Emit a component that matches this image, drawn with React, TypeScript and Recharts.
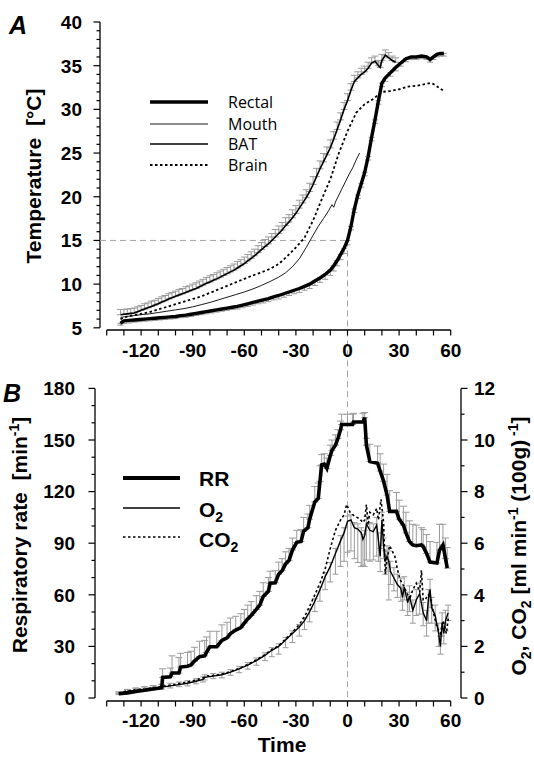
import React from "react";
import { LineChart, Line, XAxis, YAxis, ReferenceLine, ErrorBar, Legend } from "recharts";

const FONT = '"Liberation Sans", Arial, Helvetica, sans-serif';
const BAR_GRAY = "#9a9a9a";
const GUIDE_GRAY = "#a5a5a5";

// shared time axis (min)
const timeTicks = [-140, -130, -120, -110, -100, -90, -80, -70, -60, -50, -40, -30, -20, -10, 0, 10, 20, 30, 40, 50, 60];
const timeLabels = [-120, -90, -60, -30, 0, 30, 60];

// ---------- Panel A: temperature (°C) ----------
const tempTicks = [5, 6, 7, 8, 9, 10, 11, 12, 13, 14, 15, 16, 17, 18, 19, 20, 21, 22, 23, 24, 25, 26, 27, 28, 29, 30, 31, 32, 33, 34, 35, 36, 37, 38, 39, 40];
const tempLabels = [5, 10, 15, 20, 25, 30, 35, 40];

const rectalTime = [-132, -130, -127, -124, -121, -118, -115, -112, -109, -106, -103, -100, -97, -94, -91, -88, -85, -82, -79, -76, -73, -70, -67, -64, -61, -58, -55, -52, -49, -46, -43, -40, -37, -34, -31, -28, -25, -22, -19, -16, -13, -10, -8, -6, -4, -2, 0, 2, 4, 6, 8, 10, 12, 14, 16, 18, 20, 22, 25, 28, 31, 34, 37, 40, 43, 46, 48, 50, 52, 54, 56];
const rectalTemp = [5.5, 5.8, 5.85, 5.9, 5.95, 6.0, 6.05, 6.1, 6.15, 6.2, 6.25, 6.3, 6.4, 6.45, 6.55, 6.65, 6.75, 6.85, 6.95, 7.05, 7.15, 7.25, 7.35, 7.45, 7.6, 7.75, 7.9, 8.05, 8.2, 8.35, 8.55, 8.7, 8.9, 9.1, 9.3, 9.5, 9.75, 10.0, 10.35, 10.7, 11.1, 11.6, 12.1, 12.7, 13.4, 14.1, 15.0, 16.6, 18.6, 20.2, 21.5, 22.8, 24.6, 26.8, 28.8, 31.0, 33.0, 33.6, 34.2, 34.8, 35.3, 35.8, 36.0, 36.0, 36.1, 36.0, 35.7, 36.0, 36.3, 36.4, 36.4];
const rectalErr = [0.2, 0.3, 0.3, 0.25, 0.25, 0.25, 0.25, 0.25, 0.25, 0.25, 0.25, 0.25, 0.25, 0.25, 0.25, 0.25, 0.25, 0.25, 0.25, 0.25, 0.25, 0.25, 0.25, 0.3, 0.3, 0.3, 0.3, 0.3, 0.35, 0.35, 0.35, 0.4, 0.4, 0.4, 0.4, 0.45, 0.45, 0.5, 0.5, 0.5, 0.55, 0.6, 0.6, 0.6, 0.6, 0.6, 0.5, 0.4, 0.4, 0.4, 0.4, 0.4, 0.4, 0.4, 0.4, 0.4, 0.4, 0.4, 0.4, 0.4, 0.35, 0.35, 0.3, 0.3, 0.3, 0.3, 0.3, 0.3, 0.3, 0.3, 0.3];

const mouthTime = [-132, -128, -124, -120, -115, -110, -105, -100, -95, -90, -85, -80, -75, -70, -65, -60, -55, -50, -45, -40, -36, -32, -28, -24, -20, -17, -14, -11, -9, -8, -7, -5, -3, -1, 1, 3, 5, 7];
const mouthTemp = [6.2, 6.3, 6.4, 6.5, 6.6, 6.75, 6.9, 7.05, 7.2, 7.4, 7.65, 7.9, 8.2, 8.5, 8.8, 9.1, 9.45, 9.85, 10.3, 10.8, 11.3, 12.0, 12.9, 14.2, 15.6, 16.6, 17.5, 18.4, 19.1, 18.8, 19.4, 20.2, 21.0, 21.8, 22.6, 23.3, 24.2, 25.0];

const batTime = [-132, -130, -128, -126, -124, -122, -120, -118, -116, -114, -112, -110, -108, -106, -104, -102, -100, -98, -96, -94, -92, -90, -88, -86, -84, -82, -80, -78, -76, -74, -72, -70, -68, -66, -64, -62, -60, -58, -56, -54, -52, -50, -48, -46, -44, -42, -40, -38, -36, -34, -32, -30, -28, -26, -24, -22, -20, -18, -16, -14, -12, -10, -8, -6, -4, -2, 0, 2, 4, 6, 8, 10, 12, 14, 16, 18, 19, 20, 22, 24, 26, 28];
const batTemp = [6.5, 6.55, 6.6, 6.65, 6.7, 6.85, 7.0, 7.15, 7.3, 7.45, 7.6, 7.75, 7.95, 8.1, 8.3, 8.45, 8.6, 8.75, 8.9, 9.05, 9.2, 9.35, 9.5, 9.7, 9.9, 10.1, 10.25, 10.45, 10.6, 10.8, 11.0, 11.2, 11.4, 11.6, 11.85, 12.1, 12.35, 12.65, 12.95, 13.25, 13.6, 13.95, 14.3, 14.6, 15.0, 15.4, 15.8, 16.2, 16.7, 17.1, 17.6, 18.1, 18.7, 19.3, 19.9, 20.6, 21.4, 22.3, 23.2, 24.0, 24.8, 25.6, 26.6, 27.7, 28.8, 30.0, 31.0, 32.2, 33.2, 33.6, 34.0, 34.3, 34.7, 35.3, 35.5, 35.0, 34.8, 35.6, 36.2, 35.9, 35.6, 35.4];
const batErr = [0.6, 0.55, 0.55, 0.55, 0.55, 0.55, 0.55, 0.6, 0.55, 0.6, 0.55, 0.6, 0.6, 0.6, 0.6, 0.6, 0.6, 0.65, 0.6, 0.65, 0.6, 0.65, 0.65, 0.65, 0.65, 0.65, 0.7, 0.65, 0.7, 0.7, 0.7, 0.7, 0.7, 0.7, 0.75, 0.7, 0.75, 0.75, 0.75, 0.75, 0.8, 0.8, 0.8, 0.8, 0.8, 0.85, 0.85, 0.85, 0.9, 0.85, 0.9, 0.9, 0.9, 0.9, 0.9, 0.95, 0.9, 0.95, 0.9, 0.95, 0.9, 0.9, 0.85, 0.85, 0.8, 0.8, 0.8, 0.75, 0.7, 0.7, 0.7, 0.65, 0.7, 0.6, 0.6, 0.6, 0.6, 0.7, 0.6, 0.6, 0.5, 0.5];

const brainTime = [-132, -128, -124, -120, -115, -110, -105, -100, -95, -90, -85, -80, -75, -70, -65, -60, -55, -50, -45, -40, -35, -30, -25, -20, -15, -10, -5, 0, 5, 10, 15, 20, 25, 30, 35, 40, 45, 48, 50, 53, 56];
const brainTemp = [6.0, 6.3, 6.45, 6.6, 6.8, 7.1, 7.4, 7.7, 8.0, 8.3, 8.6, 9.0, 9.4, 9.8, 10.2, 10.6, 11.0, 11.35, 11.75, 12.3, 13.2, 14.2, 15.3, 17.3, 19.7, 22.0, 25.0, 27.5, 29.6, 30.6, 31.2, 32.0, 32.1, 32.3, 32.6, 32.7, 32.9, 33.0, 32.9, 32.5, 32.1];

// ---------- Panel B: respiration ----------
const rrTicks = [0, 10, 20, 30, 40, 50, 60, 70, 80, 90, 100, 110, 120, 130, 140, 150, 160, 170, 180];
const rrLabels = [0, 30, 60, 90, 120, 150, 180];
const gasTicks = [0, 1, 2, 3, 4, 5, 6, 7, 8, 9, 10, 11, 12];
const gasLabels = [0, 2, 4, 6, 8, 10, 12];

const rrTime = [-133, -128, -123, -118, -113, -108, -107.5, -103, -102, -98, -97, -93, -91, -89, -86, -83, -82, -80, -76, -73, -70, -68, -65, -62, -60, -58, -56, -53, -51, -49, -46, -45, -42, -40, -38, -36, -34, -32, -29.5, -27, -25.5, -23, -22, -19, -17, -16, -15, -13.5, -12, -10, -9, -7, -5.5, -4, -3.4, 0, 3, 3.5, 9, 10, 11, 13, 17.5, 19, 21, 23, 24.5, 28.5, 30, 32.5, 34, 36, 38, 40, 43, 44, 46, 48, 52, 53.5, 55.5, 57, 58];
const rrRate = [2.5, 3.0, 3.8, 4.5, 5.2, 6.0, 12.0, 12.4, 14.5, 14.5, 18.0, 18.5, 19.2, 21.5, 24, 24.5, 26.5, 29.8, 29.8, 33.5, 35, 37.5, 39.5, 41, 43.5, 46, 48, 51.5, 54, 59, 62, 66.7, 67, 72, 74, 78, 80, 86, 90.5, 91, 97, 99, 104, 114, 116, 126, 135.5, 136, 133.5, 141, 144, 147, 151, 156, 159, 159, 159, 160.5, 160.5, 163, 147, 137.5, 136.5, 132, 126, 118, 108.5, 108.5, 104, 100.5, 96, 91, 89, 88.5, 89, 88, 84, 79, 78.5, 86, 89, 81, 75.5];
const rrErr = [1, 2, 2, 2, 2, 2, 5, 5, 10, 9, 8, 8, 8, 8, 9, 9, 9, 9, 9, 9, 9, 9, 8, 8, 8, 8, 8, 8, 8, 8, 8, 7, 7, 7, 7, 7, 7, 7, 7, 7, 8, 8, 8, 9, 9, 9, 6, 6, 6, 6, 6, 6, 5, 5, 6, 6, 6, 5, 5, 3, 4, 10, 10, 10, 10, 12, 12, 11, 11, 11, 12, 12, 12, 12, 10, 10, 11, 12, 12, 15, 12, 12, 12];

const o2Time = [-133, -128, -123, -118, -113, -108, -103, -98, -93, -88, -84, -83, -78, -73, -68, -63, -58, -53, -48, -44, -40, -36, -32, -28, -25, -22, -19, -16, -13, -10, -7, -4, -2, 0, 2, 4, 6, 8, 9, 10, 11, 13, 15, 17, 18, 19, 20, 21, 22, 23, 24, 25, 27, 29, 31, 32, 33, 35, 36, 38, 40, 42, 44, 46, 47, 48, 49, 51, 53, 54, 55, 56, 57, 58.5];
const o2Value = [0.18, 0.25, 0.3, 0.33, 0.38, 0.42, 0.47, 0.52, 0.57, 0.65, 0.72, 0.8, 0.85, 0.9, 1.0, 1.13, 1.27, 1.45, 1.65, 1.85, 2.0, 2.25, 2.5, 2.75, 3.0, 3.35, 3.75, 4.2, 4.7, 5.1, 5.6, 6.1, 6.4, 6.85, 6.9, 6.6, 6.55, 6.4, 6.15, 6.3, 6.75, 6.5, 6.45, 6.7, 6.1, 5.5, 6.9, 5.9, 5.3, 5.5, 5.3, 4.9, 4.65, 4.4, 4.25, 3.9, 4.3, 3.7, 3.95, 3.4, 3.8, 4.05, 3.3, 3.0, 3.8, 4.2, 3.5, 3.2, 2.5, 2.0, 2.9, 2.5, 3.0, 3.3];
const o2ErrLow = [0.05, 0.05, 0.05, 0.06, 0.06, 0.08, 0.08, 0.08, 0.1, 0.1, 0.1, 0.1, 0.1, 0.12, 0.12, 0.15, 0.15, 0.18, 0.2, 0.25, 0.3, 0.3, 0.35, 0.35, 0.35, 0.4, 0.4, 0.45, 0.5, 0.6, 0.8, 1.0, 1.1, 1.2, 1.2, 1.2, 1.3, 1.3, 1.0, 1.2, 1.4, 1.2, 1.1, 1.2, 0.8, 0.6, 1.0, 0.5, 0.5, 0.6, 1.5, 0.5, 0.5, 0.5, 0.5, 0.5, 0.5, 0.5, 0.6, 0.5, 0.6, 0.8, 0.5, 0.6, 0.9, 0.7, 0.6, 0.6, 0.5, 0.3, 0.5, 0.4, 0.4, 0.3];
const o2ErrHigh = [0.05, 0.08, 0.08, 0.1, 0.1, 0.1, 0.1, 0.1, 0.1, 0.1, 0.1, 0.1, 0.1, 0.1, 0.1, 0.1, 0.1, 0.1, 0.1, 0.1, 0.1, 0.1, 0.1, 0.1, 0.1, 0.1, 0.1, 0.1, 0.15, 0.15, 0.2, 0.2, 0.2, 0.2, 0.2, 0.2, 0.2, 0.2, 0.2, 0.2, 0.3, 0.3, 0.3, 0.3, 0.3, 0.3, 0.3, 0.3, 0.4, 0.4, 0.4, 0.4, 0.4, 0.4, 0.4, 0.4, 0.4, 0.4, 0.4, 0.4, 0.4, 0.4, 0.4, 0.4, 0.4, 0.4, 0.4, 0.4, 0.4, 0.4, 0.4, 0.4, 0.4, 0.3];

const co2Time = [-133, -128, -123, -118, -113, -108, -103, -98, -93, -88, -84, -82, -78, -73, -68, -63, -58, -53, -48, -44, -40, -36, -32, -28, -25, -22, -19, -16, -13, -10, -7, -4, -2, -0.5, 1.5, 4, 7, 9, 10, 11, 12, 13, 15, 17, 18, 19.5, 21, 22, 23, 24.5, 26, 27.5, 29, 30.5, 33, 35, 36.5, 38, 40, 42, 43, 44, 45, 47, 48, 50, 52, 54, 55.5, 57.5, 58.6];
const co2Value = [0.2, 0.28, 0.33, 0.36, 0.4, 0.45, 0.5, 0.56, 0.62, 0.7, 0.78, 0.85, 0.88, 0.93, 1.02, 1.15, 1.3, 1.48, 1.68, 1.88, 2.02, 2.28, 2.55, 2.85, 3.15, 3.55, 4.0, 4.45, 5.0, 5.8, 6.5, 6.9, 7.1, 7.5, 7.2, 7.05, 6.95, 6.8, 6.9, 7.5, 6.7, 7.2, 7.1, 7.35, 6.9, 7.7, 6.8, 4.8, 5.4, 5.9, 5.7, 5.5, 5.0, 4.6, 4.3, 4.0, 3.9, 4.2, 4.45, 4.1, 4.95, 3.8, 3.8, 4.0, 3.9, 3.3, 2.75, 2.5, 3.0, 2.5, 3.1];

type Pt = { t: number; v: number; e?: number[] };

const series = (time: number[], vals: number[], lo?: number[], hi?: number[]): Pt[] =>
  time.map((t, i) => ({
    t,
    v: vals[i],
    e: lo || hi ? [lo ? lo[i] : 0, hi ? hi[i] : 0] : undefined,
  }));

const rectalData = series(rectalTime, rectalTemp, rectalErr);
const mouthData = series(mouthTime, mouthTemp);
const batData = series(batTime, batTemp, undefined, batErr);
const brainData = series(brainTime, brainTemp);
const rrData = series(rrTime, rrRate, undefined, rrErr);
const o2Data = series(o2Time, o2Value, o2ErrLow, o2ErrHigh);
const co2Data = series(co2Time, co2Value);

const labelStyle = { fontFamily: FONT, fontWeight: 700, fontSize: 19, fill: "#000" };

// minor/major tick drawing, label only on majors
const makeTick = (side: "left" | "right" | "bottom", majors: number[], gap: number) =>
  function AxisTick(props: any) {
    const { x, y, payload } = props;
    const v = payload.value as number;
    const major = majors.includes(v);
    if (side === "bottom") {
      return (
        <g>
          <line x1={x} x2={x} y1={y} y2={y + 5.5} stroke="#000" strokeWidth={1.2} />
          {major && (
            <text x={x} y={y + gap} textAnchor="middle" {...labelStyle}>
              {v}
            </text>
          )}
        </g>
      );
    }
    const s = side === "left" ? -1 : 1;
    const len = major ? 6.5 : 3.5;
    return (
      <g>
        <line x1={x} x2={x + s * len} y1={y} y2={y} stroke="#000" strokeWidth={1.2} />
        {major && (
          <text x={x + s * gap} y={y} dy="0.36em" textAnchor={side === "left" ? "end" : "start"} {...labelStyle}>
            {v}
          </text>
        )}
      </g>
    );
  };

const titleStyle = { fontFamily: FONT, fontWeight: 700, fontSize: 21, fill: "#000" };
const letterStyle = { fontFamily: FONT, fontWeight: 700, fontStyle: "italic", fontSize: 25, fill: "#000" };

function LegendA() {
  const rows = [
    { name: "Rectal", w: 3.4, dash: undefined },
    { name: "Mouth", w: 0.9, dash: undefined },
    { name: "BAT", w: 1.6, dash: undefined },
    { name: "Brain", w: 1.8, dash: "2.5 2.5" },
  ];
  const ys = [14, 36, 56, 77];
  return (
    <svg width={170} height={92} style={{ display: "block", overflow: "visible" }}>
      {rows.map((r, i) => (
        <g key={r.name}>
          <line x1={10} x2={68} y1={ys[i]} y2={ys[i]} stroke="#000" strokeWidth={r.w} strokeDasharray={r.dash} />
          <text x={88} y={ys[i] + 5.7} fontFamily='"Open Sans", sans-serif' fontSize={16} fill="#000">
            {r.name}
          </text>
        </g>
      ))}
    </svg>
  );
}

function LegendB() {
  const sub = { fontSize: 14 };
  return (
    <svg width={160} height={105} style={{ display: "block", overflow: "visible" }}>
      <line x1={8} x2={65} y1={23} y2={23} stroke="#000" strokeWidth={4} />
      <text x={84} y={31} {...titleStyle}>RR</text>
      <line x1={8} x2={65} y1={53} y2={53} stroke="#000" strokeWidth={1.5} />
      <text x={84} y={61.5} {...titleStyle}>
        O<tspan dy={5} {...sub}>2</tspan>
      </text>
      <line x1={8} x2={65} y1={82} y2={82} stroke="#000" strokeWidth={1.6} strokeDasharray="2.5 2.5" />
      <text x={84} y={92} {...titleStyle}>
        CO<tspan dy={5} {...sub}>2</tspan>
      </text>
    </svg>
  );
}

// ---- layout (px) ----
const W = 534;
const A_H = 372;
const B_H = 385;
const A_X_DOMAIN = [-143.9, 60];
const A_Y_DOMAIN = [4.75, 40];
const B_X_DOMAIN = [-146.8, 66];
const RR_DOMAIN = [-1.74, 180];
const GAS_DOMAIN = [-0.116, 12];

function PanelA() {
  return (
    <LineChart width={W} height={A_H} margin={{ top: 22, right: 83.3, bottom: 0, left: 0 }}>
      <XAxis
        type="number"
        dataKey="t"
        domain={A_X_DOMAIN}
        allowDataOverflow
        ticks={timeTicks}
        interval={0}
        tickSize={0}
        tickMargin={0}
        axisLine={false}
        tickLine={false}
        tick={makeTick("bottom", timeLabels, 27)}
        height={42}
      />
      <YAxis
        type="number"
        domain={A_Y_DOMAIN}
        allowDataOverflow
        ticks={tempTicks}
        interval={0}
        tickSize={0}
        tickMargin={0}
        axisLine={false}
        tickLine={false}
        tick={makeTick("left", tempLabels, 18)}
        width={100}
        label={{
          content: () => (
            <g>
              <text x={9} y={34} {...letterStyle}>A</text>
              <text transform="translate(41,176) rotate(-90)" textAnchor="middle" {...titleStyle} style={{ whiteSpace: "pre" }}>
                {"Temperature  [°C]"}
              </text>
            </g>
          ),
        }}
      />
      {/* axis lines, drawn separately so they do not meet */}
      <ReferenceLine segment={[{ x: -140, y: 4.75 }, { x: 60, y: 4.75 }]} stroke="#000" strokeWidth={1.3} ifOverflow="visible" />
      <ReferenceLine segment={[{ x: -143.9, y: 5 }, { x: -143.9, y: 40 }]} stroke="#000" strokeWidth={1.3} ifOverflow="visible" />
      {/* 15 °C / time 0 guides */}
      <ReferenceLine segment={[{ x: -143.9, y: 15 }, { x: 0, y: 15 }]} stroke={GUIDE_GRAY} strokeDasharray="6 4" ifOverflow="visible" />
      <ReferenceLine segment={[{ x: 0, y: 15 }, { x: 0, y: -0.2 }]} stroke={GUIDE_GRAY} strokeDasharray="6 4" ifOverflow="visible" />

      <Line data={batData} dataKey="v" type="linear" stroke="#000" strokeWidth={1.6} dot={false} activeDot={false} isAnimationActive={false}>
        <ErrorBar dataKey="e" direction="y" width={3.5} stroke={BAR_GRAY} strokeWidth={1} isAnimationActive={false} />
      </Line>
      <Line data={rectalData} dataKey="v" type="linear" stroke="#000" strokeWidth={3.4} dot={false} activeDot={false} isAnimationActive={false}>
        <ErrorBar dataKey="e" direction="y" width={3} stroke={BAR_GRAY} strokeWidth={1} isAnimationActive={false} />
      </Line>
      <Line data={mouthData} dataKey="v" type="linear" stroke="#000" strokeWidth={0.9} dot={false} activeDot={false} isAnimationActive={false} />
      <Line data={brainData} dataKey="v" type="linear" stroke="#000" strokeWidth={1.8} strokeDasharray="2.5 2.5" dot={false} activeDot={false} isAnimationActive={false} />
      <Legend
        layout="vertical"
        align="center"
        verticalAlign="middle"
        content={() => <LegendA />}
        wrapperStyle={{ left: 140, top: 88, width: 170, height: 92 }}
      />
    </LineChart>
  );
}

function PanelB() {
  return (
    <LineChart width={W} height={B_H} margin={{ top: 16.4, right: 0, bottom: 0, left: 0 }}>
      <XAxis
        type="number"
        dataKey="t"
        domain={B_X_DOMAIN}
        allowDataOverflow
        ticks={timeTicks}
        interval={0}
        tickSize={0}
        tickMargin={0}
        axisLine={false}
        tickLine={false}
        tick={makeTick("bottom", timeLabels, 26)}
        height={56}
        label={{
          content: () => (
            <text x={282} y={380} textAnchor="middle" {...titleStyle}>
              Time
            </text>
          ),
        }}
      />
      <YAxis
        yAxisId="rr"
        orientation="left"
        type="number"
        domain={RR_DOMAIN}
        allowDataOverflow
        ticks={rrTicks}
        interval={0}
        tickSize={0}
        tickMargin={0}
        axisLine={false}
        tickLine={false}
        tick={makeTick("left", rrLabels, 20)}
        width={95}
        label={{
          content: () => (
            <g>
              <text x={3} y={30} {...letterStyle}>B</text>
              <text transform="translate(27,163) rotate(-90)" textAnchor="middle" {...titleStyle} style={{ whiteSpace: "pre" }}>
                {"Respiratory rate  [min"}
                <tspan dy={-8} fontSize={14}>-1</tspan>
                <tspan dy={8}>]</tspan>
              </text>
            </g>
          ),
        }}
      />
      <YAxis
        yAxisId="gas"
        orientation="right"
        type="number"
        domain={GAS_DOMAIN}
        allowDataOverflow
        ticks={gasTicks}
        interval={0}
        tickSize={0}
        tickMargin={0}
        axisLine={false}
        tickLine={false}
        tick={makeTick("right", gasLabels, 13)}
        width={73}
        label={{
          content: () => (
            <text transform="translate(526,174) rotate(-90)" textAnchor="middle" {...titleStyle} style={{ whiteSpace: "pre" }}>
              {"O"}
              <tspan dy={5} fontSize={14}>2</tspan>
              <tspan dy={-5}>{", CO"}</tspan>
              <tspan dy={5} fontSize={14}>2</tspan>
              <tspan dy={-5}>{" [ml min"}</tspan>
              <tspan dy={-8} fontSize={14}>-1</tspan>
              <tspan dy={8}>{" (100g)"}</tspan>
              <tspan dy={-8} fontSize={14}>{" -1"}</tspan>
              <tspan dy={8}>]</tspan>
            </text>
          ),
        }}
      />
      <ReferenceLine yAxisId="rr" segment={[{ x: -140, y: -1.74 }, { x: 60, y: -1.74 }]} stroke="#000" strokeWidth={1.3} ifOverflow="visible" />
      <ReferenceLine yAxisId="rr" segment={[{ x: -146.8, y: 0 }, { x: -146.8, y: 180 }]} stroke="#000" strokeWidth={1.3} ifOverflow="visible" />
      <ReferenceLine yAxisId="gas" segment={[{ x: 66, y: 0 }, { x: 66, y: 12 }]} stroke="#000" strokeWidth={1.3} ifOverflow="visible" />
      <ReferenceLine yAxisId="rr" segment={[{ x: 0, y: 190 }, { x: 0, y: -1.74 }]} stroke={GUIDE_GRAY} strokeDasharray="6 4" ifOverflow="visible" />

      <Line yAxisId="gas" data={o2Data} dataKey="v" type="linear" stroke="#000" strokeWidth={1.4} dot={false} activeDot={false} isAnimationActive={false}>
        <ErrorBar dataKey="e" direction="y" width={3} stroke={BAR_GRAY} strokeWidth={1} isAnimationActive={false} />
      </Line>
      <Line yAxisId="gas" data={co2Data} dataKey="v" type="linear" stroke="#000" strokeWidth={1.6} strokeDasharray="2.5 2.5" dot={false} activeDot={false} isAnimationActive={false} />
      <Line yAxisId="rr" data={rrData} dataKey="v" type="linear" stroke="#000" strokeWidth={3.6} dot={false} activeDot={false} isAnimationActive={false}>
        <ErrorBar dataKey="e" direction="y" width={3.5} stroke={BAR_GRAY} strokeWidth={1} isAnimationActive={false} />
      </Line>
      <Legend
        layout="vertical"
        align="center"
        verticalAlign="middle"
        content={() => <LegendB />}
        wrapperStyle={{ left: 115, top: 83, width: 160, height: 105 }}
      />
    </LineChart>
  );
}

export default function App() {
  return (
    <div style={{ position: "absolute", left: 0, top: 0, width: W, height: A_H + B_H, background: "#fff" }}>
      <PanelA />
      <PanelB />
    </div>
  );
}
